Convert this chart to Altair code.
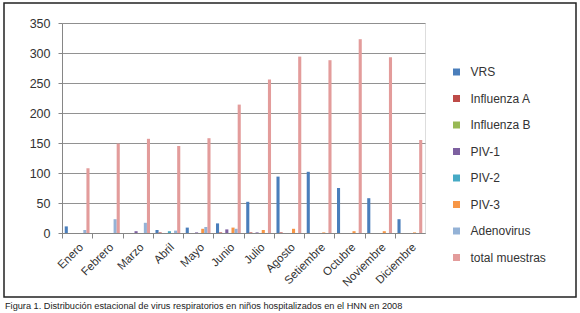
import altair as alt
import pandas as pd

months = ["Enero", "Febrero", "Marzo", "Abril", "Mayo", "Junio", "Julio",
          "Agosto", "Setiembre", "Octubre", "Noviembre", "Diciembre"]
series = ["VRS", "Influenza A", "Influenza B", "PIV-1", "PIV-2", "PIV-3",
          "Adenovirus", "total muestras"]
colors = ["#4A7EBB", "#BE4B48", "#98B954", "#7D60A0", "#46AAC5", "#F79646",
          "#94B2D6", "#E39C9B"]

vrs = [11, 0, 0, 5, 9, 16, 52, 94, 102, 75, 58, 23]
infA = [0, 0, 0, 1, 0, 1, 1, 1, 0, 0, 0, 0]
infB = [0, 0, 0, 0, 0, 0, 0, 0, 0, 0, 0, 0]
piv1 = [0, 0, 3, 0, 1, 6, 1, 0, 0, 0, 0, 0]
piv2 = [0, 0, 0, 3, 0, 0, 0, 0, 0, 0, 0, 0]
piv3 = [0, 0, 0, 0, 7, 9, 5, 7, 1, 3, 3, 1]
adeno = [5, 23, 17, 4, 10, 7, 0, 0, 0, 0, 0, 0]
total = [108, 149, 157, 145, 158, 214, 256, 294, 288, 323, 293, 155]

y_ticks = [0, 50, 100, 150, 200, 250, 300, 350]
caption = "Figura 1. Distribución estacional de virus respiratorios en niños hospitalizados en el HNN  en 2008"

vals = [vrs, infA, infB, piv1, piv2, piv3, adeno, total]
rows = []
for s, v in zip(series, vals):
    for m, x in zip(months, v):
        rows.append({"mes": m, "serie": s, "valor": x})
df = pd.DataFrame(rows)

FONT = "Liberation Sans"
GRAY = "#868686"

bars = alt.Chart(df).mark_bar().encode(
    x=alt.X("mes:N", sort=months, title=None,
            scale=alt.Scale(paddingInner=0.18, paddingOuter=0.09),
            axis=alt.Axis(labelAngle=315, labelAlign="right", labelBaseline="top",
                          labelFontSize=11.5, labelColor="#333333", labelFont=FONT,
                          labelPadding=3, tickOffset=-15.1, labelOffset=15.1,
                          tickSize=5, tickColor=GRAY, domainColor=GRAY, grid=False)),
    xOffset=alt.XOffset("serie:N", sort=series,
                        scale=alt.Scale(paddingInner=0, paddingOuter=0)),
    y=alt.Y("valor:Q", title=None, scale=alt.Scale(domain=[0, 350]),
            axis=alt.Axis(values=y_ticks, labelFontSize=12.5, labelColor="#333333",
                          labelFont=FONT, labelPadding=8, tickSize=4, tickColor=GRAY,
                          domainColor=GRAY, gridColor=GRAY, gridOpacity=0.9)),
    color=alt.Color("serie:N", sort=series,
                    scale=alt.Scale(domain=series, range=colors),
                    legend=alt.Legend(title=None, orient="none", legendX=388.5,
                                      legendY=43, symbolType="square", symbolSize=49,
                                      symbolStrokeWidth=0, labelFontSize=12,
                                      labelFont=FONT, labelColor="#333333",
                                      labelOffset=8, rowPadding=14.5)),
)

border = alt.Chart(alt.Data(values=[{}])).mark_rect(
    fill=None, stroke="#222222", strokeWidth=1.5
).encode(x=alt.value(-58), x2=alt.value(514), y=alt.value(-20), y2=alt.value(274))

cap = alt.Chart(alt.Data(values=[{"t": caption}])).mark_text(
    align="left", baseline="middle", font=FONT, fontSize=9.2,
    color="#222222"
).encode(x=alt.value(-57), y=alt.value(283), text="t:N")

chart = alt.layer(bars, border, cap).properties(
    width=363, height=210,
    autosize=alt.AutoSizeParams(type="none"),
    padding={"left": 62, "top": 23, "right": 155, "bottom": 80},
).configure_view(stroke=None).configure(background="white")

chart.save("out.html", embed_options={"renderer": "svg", "actions": False})
